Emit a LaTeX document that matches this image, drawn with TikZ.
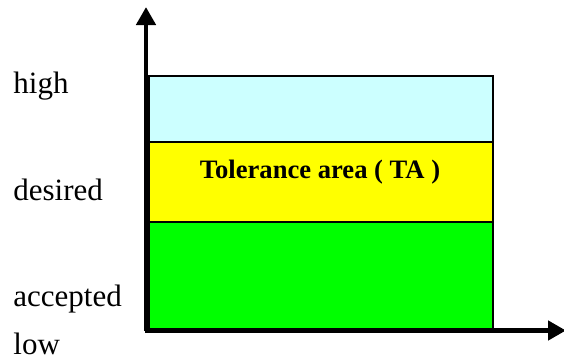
\documentclass[tikz,border=0pt]{standalone}
\usepackage{fontspec}
\setmainfont{Liberation Serif}
\usetikzlibrary{arrows.meta}
\definecolor{lcyan}{RGB}{204,255,255}
\definecolor{lyellow}{RGB}{255,255,0}
\definecolor{lgreen}{RGB}{0,255,0}
\begin{document}
\begin{tikzpicture}[x=0.5pt,y=-0.5pt,
  band/.style={draw=black,line width=0.8pt},
  axisline/.style={line width=2.4pt,-{Triangle[length=9pt,width=9.5pt]}},
  lab/.style={anchor=base west,inner sep=0pt,font=\fontsize{15.5}{18}\selectfont}]
\useasboundingbox (0,0) rectangle (564,360);
\fill[white] (0,0) rectangle (564,360);
\draw[band,fill=lcyan] (149,76) rectangle (493,142);
\draw[band,fill=lyellow] (149,142) rectangle (493,222);
\draw[band,fill=lgreen] (149,222) rectangle (493,329);
\node[inner sep=0pt,font=\bfseries\fontsize{13.3}{16}\selectfont] (ta) at (320,172) {Tolerance area ( TA )};
\coordinate (o) at (146,331);
\coordinate (ytip) at (146,7);
\coordinate (xo) at (145,330.5);
\coordinate (xtip) at (566,330.5);
\draw[axisline] (o) -- (ytip);
\draw[axisline] (xo) -- (xtip);
\node[lab] (high) at (13,93) {high};
\node[lab] (desired) at (13,200) {desired};
\node[lab] (accepted) at (13,306) {accepted};
\node[lab] (low) at (13,354) {low};
\end{tikzpicture}
\end{document}
